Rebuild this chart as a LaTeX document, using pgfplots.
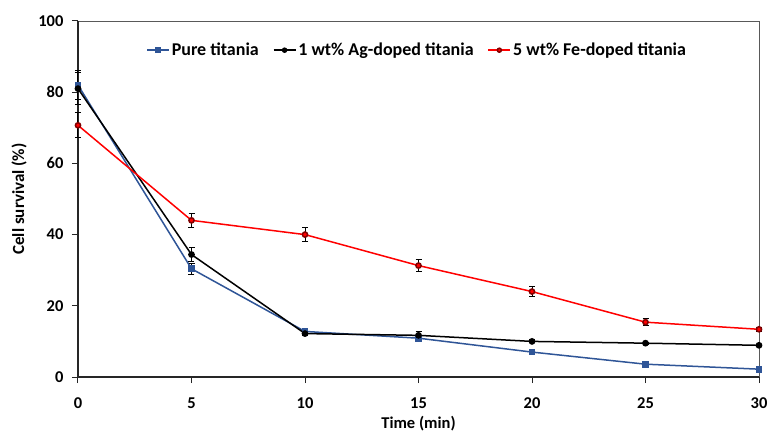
\documentclass[border=0pt]{standalone}
\usepackage{pgfplots}
\pgfplotsset{compat=1.18}
\usepackage{fontspec}
\setmainfont{Carlito}
\definecolor{pblue}{RGB}{47,85,151}
\definecolor{pred}{RGB}{255,0,0}
\pgfplotsset{ebars/.style={error bars/y dir=both, error bars/y explicit,
    error bars/error bar style={line width=1pt, black},
    error bars/error mark options={rotate=90, mark size=3pt, line width=1pt, black}}}
\begin{document}
\begin{tikzpicture}
\begin{axis}[
  at={(0,0)}, anchor=south west,
  scale only axis, width=681pt, height=356pt,
  xmin=0, xmax=30, ymin=0, ymax=100,
  xtick={0,5,...,30}, ytick={0,20,...,100},
  axis line style={gray!70!black, line width=0.6pt},
  tick pos=left, tick align=outside,
  tick style={black, line width=1pt},
  major tick length=6pt,
  tick label style={font=\fontsize{16.5}{18}\selectfont\bfseries},
  xticklabel style={yshift=-11pt},
  yticklabel style={xshift=-5pt},
  /pgf/number format/assume math mode=true,
  xlabel={Time (min)}, ylabel={Cell survival (\%)},
  every axis x label/.style={at={(rel axis cs:0.5,0)}, anchor=center, yshift=-47pt, font=\fontsize{16.5}{18}\selectfont\bfseries},
  every axis y label/.style={at={(rel axis cs:0,0.5)}, anchor=center, rotate=90, yshift=59pt, font=\fontsize{17}{18}\selectfont\bfseries},
  clip=false,
  legend style={draw=none, fill=none, at={(0.1,0.918)}, anchor=west, inner sep=0pt,
    legend columns=3, font=\fontsize{18}{20}\selectfont\bfseries,
    /tikz/every even column/.append style={column sep=12pt}},
  legend image code/.code={\draw[mark repeat=2, mark phase=2, #1, mark size=2pt] plot coordinates {(0pt,0pt) (11pt,0pt) (22pt,0pt)};},
]
\draw[black!85, line width=1.3pt] (rel axis cs:0,1) -- (rel axis cs:0,0) -- (rel axis cs:1,0);
\pgfplotsinvokeforeach{0,5,10,15,20,25,30}{\draw[black!85, line width=1pt] (axis cs:#1,0) -- ++(0pt,-6pt);}
\pgfplotsinvokeforeach{0,20,40,60,80,100}{\draw[black!85, line width=1pt] (axis cs:0,#1) -- ++(-6pt,0pt);}
\addplot[pblue, line width=1.5pt, mark=square*, mark size=2.6pt, mark options={fill=pblue}, ebars]
  coordinates {(0,82) +- (0,4) (5,30.4) +- (0,1.5) (10,12.8) +- (0,0.5) (15,10.9) +- (0,0.5) (20,7.0) +- (0,0.4) (25,3.6) +- (0,0.3) (30,2.2) +- (0,0.3)};
\addlegendentry{Pure titania}
\addplot[black, line width=1.5pt, mark=*, mark size=2.6pt, ebars]
  coordinates {(0,81) +- (0,4.5) (5,34.4) +- (0,2) (10,12.2) +- (0,0.5) (15,11.7) +- (0,1) (20,10) +- (0,0.4) (25,9.5) +- (0,0.3) (30,8.9) +- (0,0.3)};
\addlegendentry{1 wt\% Ag-doped titania}
\addplot[pred, line width=1.5pt, mark=*, mark size=2.6pt, mark options={fill=pred, draw=red!50!black}, ebars]
  coordinates {(0,70.7) +- (0,3.5) (5,44) +- (0,2) (10,40) +- (0,2) (15,31.3) +- (0,1.7) (20,24) +- (0,1.3) (25,15.4) +- (0,1) (30,13.4) +- (0,0.5)};
\addlegendentry{5 wt\% Fe-doped titania}
\end{axis}
\pgfresetboundingbox
\path (-78pt,-57pt) rectangle (690pt,377pt);
\end{tikzpicture}
\end{document}
